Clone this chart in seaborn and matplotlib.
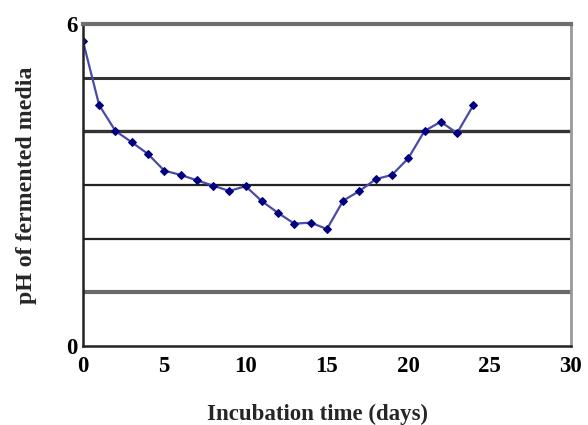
import matplotlib
matplotlib.use("Agg")
import matplotlib.pyplot as plt
import seaborn as sns
import pandas as pd

# pH of the fermented media per incubation day
days = list(range(25))
ph = [5.69, 4.49, 4.01, 3.80, 3.58, 3.27, 3.19, 3.09, 2.99, 2.89,
      2.98, 2.70, 2.48, 2.28, 2.30, 2.18, 2.71, 2.89, 3.11, 3.19,
      3.50, 4.01, 4.18, 3.97, 4.49]
x_ticks = [0, 5, 10, 15, 20, 25, 30]
y_ticks = [0, 1, 2, 3, 4, 5, 6]
y_labels = ["0", "", "", "", "", "", "6"]

sns.set_style("white")
plt.rcParams["font.family"] = ["Liberation Serif", "DejaVu Serif"]
plt.rcParams["font.weight"] = "bold"

df = pd.DataFrame({"day": days, "ph": ph})

fig = plt.figure(figsize=(5.88, 4.25), dpi=100)
ax = fig.add_axes([0.141, 0.186, 0.830, 0.757])

sns.lineplot(data=df, x="day", y="ph", ax=ax, color="#4a4aa8", linewidth=1.6,
             marker="D", markersize=3.8, markerfacecolor="#000080",
             markeredgecolor="#000080")

ax.set_xlim(0, 30)
ax.set_ylim(0, 6)
ax.set_xticks(x_ticks)
ax.set_xticklabels([str(t) for t in x_ticks], fontsize=16.5, fontweight="bold")
ax.set_yticks(y_ticks)
ax.set_yticklabels(y_labels, fontsize=16.5, fontweight="bold")
ax.tick_params(axis="both", direction="out", length=4, width=1.5, pad=3,
               colors="#222222", labelcolor="black")
ax.tick_params(axis="y", pad=0)

ax.yaxis.grid(True)
grid_styles = {1: ("#6a6a6a", 3.0), 2: ("#222222", 1.6), 3: ("#222222", 1.6),
               4: ("#333333", 2.4), 5: ("#333333", 2.2)}
for val, gl in zip(y_ticks, ax.get_ygridlines()):
    if val in grid_styles:
        c, w = grid_styles[val]
        gl.set_color(c)
        gl.set_linewidth(w)
    else:
        gl.set_visible(False)

for side in ["left", "bottom"]:
    ax.spines[side].set_color("#222222")
    ax.spines[side].set_linewidth(1.8)
ax.spines["top"].set_color("#6e6e6e")
ax.spines["top"].set_linewidth(3.0)
ax.spines["right"].set_color("#999999")
ax.spines["right"].set_linewidth(2.0)

ax.set_xlabel("Incubation time (days)", fontsize=16.5, fontweight="bold")
ax.xaxis.set_label_coords(0.48, -0.18)
ax.set_ylabel("pH of fermented media", fontsize=17.2, fontweight="bold", labelpad=21)

fig.savefig("out.png", dpi=100)
